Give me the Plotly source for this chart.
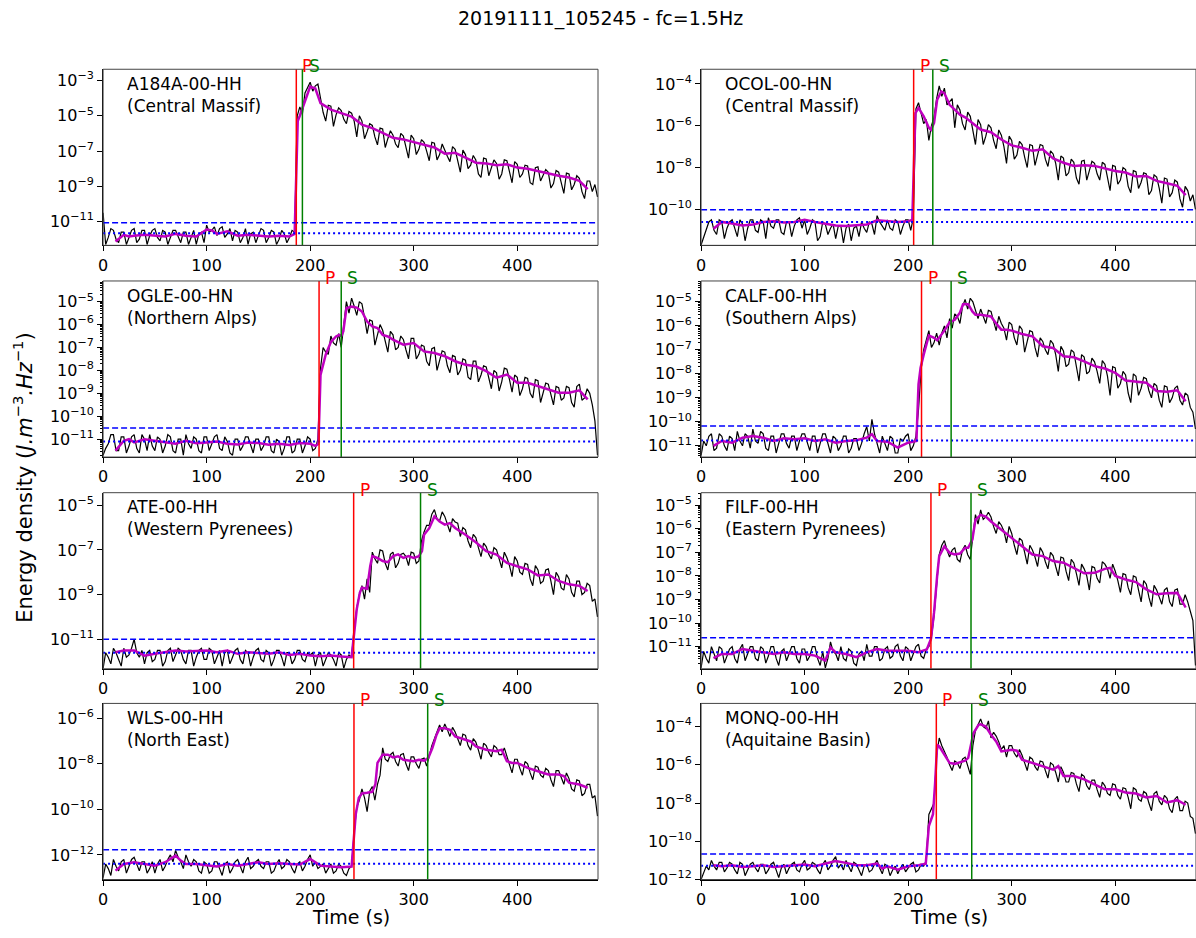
import plotly.graph_objects as go

W, H = 1196, 938

title_text = "20191111_105245 - fc=1.5Hz"
stations = ["A184A-00-HH", "OCOL-00-HN", "OGLE-00-HN", "CALF-00-HH",
            "ATE-00-HH", "FILF-00-HH", "WLS-00-HH", "MONQ-00-HH"]
regions = ["Central Massif", "Central Massif", "Northern Alps", "Southern Alps",
           "Western Pyrenees", "Eastern Pyrenees", "North East", "Aquitaine Basin"]
p_times = [186.6, 205.3, 208.6, 212.9, 242.0, 222.0, 242.3, 227.2]
s_times = [192.5, 223.8, 230.0, 241.5, 306.6, 260.7, 313.5, 261.4]
# noise levels (log10)
dashed_exp = [-11.07, -10.02, -10.51, -10.17, -11.0, -10.62, -11.77, -10.67]
dotted_exp = [-11.66, -10.6, -11.1, -10.78, -11.6, -11.24, -12.39, -11.28]
# y-axis limits (log10)
ylim_exp = [(-12.35, -2.36), (-11.72, -3.30), (-11.78, -4.10), (-11.47, -4.13),
            (-12.32, -4.44), (-11.94, -4.47), (-13.08, -5.35), (-12.0, -2.79)]
ytick_exp = [[-11, -9, -7, -5, -3], [-10, -8, -6, -4],
             [-11, -10, -9, -8, -7, -6, -5], [-11, -10, -9, -8, -7, -6, -5],
             [-11, -9, -7, -5], [-11, -10, -9, -8, -7, -6, -5],
             [-12, -10, -8, -6], [-12, -10, -8, -6, -4]]
minor_panels = [2, 3, 5]
xticks = [0, 100, 200, 300, 400]
xmax = 478

# time samples for the raw energy trace (s), every 2.5 s
t_black = [2.5 * k for k in range(192)]

# raw energy density (log10), one row = 50 s
black_1 = [
    -10.5, -12.3, -11.9, -11.4, -11.5, -12.0, -12.2, -11.6, -11.6, -12.3, -11.9, -11.5, -11.4, -12.2, -12.0, -11.5, -11.5, -12.3, -11.8, -11.5,
    -11.4, -11.9, -12.1, -11.5, -11.6, -12.3, -11.9, -11.5, -11.5, -11.9, -12.2, -11.6, -11.6, -12.3, -11.9, -11.5, -12.3, -11.7, -11.6, -12.2,
    -11.2, -11.6, -11.5, -11.3, -11.8, -11.4, -11.3, -11.9, -11.7, -11.4, -12.1, -11.5, -11.6, -12.2, -11.9, -11.4, -12.3, -11.7, -11.6, -12.2,
    -11.8, -11.4, -11.5, -12.2, -11.9, -11.5, -11.6, -12.3, -12.0, -11.5, -11.7, -12.2, -11.9, -11.5, -11.6, -5.0, -4.5, -4.9, -3.7, -3.4,
    -3.1, -3.6, -3.3, -3.2, -4.1, -4.8, -5.3, -4.4, -4.45, -5.6, -4.95, -4.55, -4.7, -5.2, -5.45, -4.75, -4.85, -5.3, -6.2, -5.0,
    -5.3, -6.3, -5.9, -5.45, -5.55, -6.2, -6.65, -5.7, -5.75, -6.8, -6.3, -5.85, -6.1, -6.6, -6.8, -6.0, -6.15, -6.7, -7.4, -6.1,
    -6.3, -7.2, -6.9, -6.35, -6.5, -7.0, -7.55, -6.5, -6.55, -7.5, -7.2, -6.6, -7.0, -7.3, -7.6, -6.75, -6.9, -7.6, -8.2, -6.95,
    -7.2, -8.0, -7.8, -7.25, -7.5, -8.3, -8.5, -7.4, -7.45, -8.4, -7.95, -7.5, -7.7, -8.6, -8.3, -7.5, -7.55, -8.1, -8.8, -7.6,
    -7.75, -8.5, -8.3, -7.8, -7.85, -8.8, -8.9, -7.95, -7.9, -8.7, -8.4, -8.05, -8.2, -9.1, -8.85, -8.1, -8.2, -8.8, -9.4, -8.25,
    -8.3, -9.2, -8.9, -8.4, -8.55, -9.3, -9.7, -8.7, -8.7, -9.3, -8.9, -9.6]
black_2 = [
    -11.7, -11.3, -11.0, -10.6, -10.5, -11.0, -11.2, -10.5, -10.6, -11.4, -10.9, -10.6, -10.5, -10.9, -11.3, -10.5, -10.7, -11.5, -10.9, -10.5,
    -10.5, -11.0, -11.1, -10.5, -10.6, -11.4, -10.4, -10.8, -10.9, -10.5, -10.5, -11.1, -11.2, -10.6, -10.6, -11.3, -10.8, -10.5, -10.4, -10.9,
    -10.5, -11.2, -10.9, -10.5, -10.6, -11.5, -11.3, -10.6, -10.7, -11.2, -10.9, -10.7, -11.4, -10.8, -10.8, -11.6, -10.9, -10.7, -11.5, -10.9,
    -10.8, -11.3, -10.6, -10.9, -11.1, -10.6, -10.7, -11.2, -10.3, -10.6, -10.8, -11.0, -10.5, -10.9, -11.0, -10.5, -10.6, -11.2, -10.8, -10.5,
    -10.5, -11.0, -10.4, -5.2, -4.9, -5.4, -5.9, -5.7, -6.7, -6.0, -5.6, -4.7, -4.1, -4.6, -4.2, -5.0, -4.85, -4.7, -6.1, -5.0,
    -5.25, -5.9, -6.2, -5.35, -5.55, -6.3, -6.9, -5.7, -5.95, -6.9, -6.5, -5.95, -6.1, -6.7, -7.1, -6.2, -6.45, -7.0, -7.8, -6.5,
    -6.7, -7.6, -7.4, -6.75, -6.9, -7.5, -8.0, -6.9, -6.95, -7.9, -7.4, -6.9, -6.95, -7.6, -7.95, -7.2, -7.35, -7.8, -8.6, -7.45,
    -7.55, -8.4, -8.25, -7.6, -7.75, -8.5, -8.8, -7.7, -7.65, -8.6, -8.15, -7.7, -7.8, -8.3, -8.6, -7.75, -7.85, -8.5, -9.1, -7.9,
    -7.95, -8.8, -8.6, -8.0, -8.1, -8.9, -9.2, -8.15, -8.2, -9.0, -8.7, -8.25, -8.3, -9.3, -9.1, -8.35, -8.45, -9.0, -9.7, -8.5,
    -8.55, -9.4, -9.2, -8.6, -8.7, -9.5, -9.9, -8.9, -9.1, -9.6, -9.3, -10.0]
black_3 = [
    -11.7, -11.4, -11.2, -10.8, -10.8, -11.5, -11.5, -10.9, -10.9, -11.6, -11.3, -10.9, -10.8, -11.4, -11.6, -10.8, -11.0, -11.5, -10.8, -11.3,
    -11.5, -10.9, -11.0, -11.6, -11.3, -10.8, -10.9, -11.5, -11.6, -11.0, -11.0, -11.7, -10.8, -11.2, -11.4, -10.9, -11.0, -11.5, -11.6, -10.9,
    -10.9, -11.5, -11.2, -10.9, -10.8, -11.4, -11.5, -10.9, -11.1, -11.6, -11.7, -11.0, -11.0, -11.5, -11.3, -10.9, -10.9, -11.3, -11.6, -11.0,
    -11.0, -11.5, -11.3, -10.9, -10.9, -11.5, -11.6, -11.0, -11.1, -11.7, -11.4, -10.9, -10.9, -11.6, -11.5, -11.0, -11.0, -11.6, -11.3, -10.9,
    -11.0, -11.5, -11.4, -11.0, -7.9, -7.0, -7.2, -7.3, -6.5, -6.8, -6.9, -6.4, -7.0, -6.0, -5.0, -5.5, -4.85, -5.2, -5.6, -5.0,
    -5.1, -5.7, -6.4, -5.8, -5.85, -6.9, -6.5, -6.0, -6.25, -6.8, -7.2, -6.3, -6.45, -7.1, -7.0, -6.5, -6.65, -7.1, -7.5, -6.6,
    -6.6, -7.5, -7.3, -6.9, -6.95, -7.6, -7.8, -7.05, -7.0, -8.0, -7.55, -7.15, -7.2, -7.8, -8.1, -7.35, -7.4, -8.2, -8.0, -7.5,
    -7.55, -8.3, -8.4, -7.6, -7.6, -8.5, -8.2, -7.8, -7.85, -8.3, -8.8, -8.0, -8.1, -8.9, -8.5, -7.9, -7.95, -8.4, -8.95, -8.2,
    -8.3, -9.1, -8.8, -8.3, -8.35, -9.0, -9.2, -8.4, -8.45, -9.4, -9.0, -8.55, -8.6, -9.1, -9.5, -8.7, -8.75, -9.3, -9.2, -8.7,
    -8.75, -9.4, -9.6, -8.7, -8.6, -9.3, -9.2, -8.8, -9.0, -9.5, -10.2, -11.7]
black_4 = [
    -11.4, -10.8, -11.0, -10.6, -10.5, -11.2, -11.1, -10.5, -10.6, -11.0, -11.2, -10.6, -10.7, -11.2, -10.4, -10.8, -11.0, -10.5, -10.6, -11.1,
    -10.3, -10.8, -10.9, -10.4, -10.5, -11.1, -11.2, -10.6, -10.6, -11.3, -10.9, -10.5, -10.5, -10.9, -11.1, -10.6, -10.6, -11.2, -10.8, -10.5,
    -10.5, -10.9, -11.2, -10.6, -10.6, -11.3, -10.9, -10.5, -10.5, -10.9, -11.3, -10.6, -10.7, -11.2, -11.0, -10.6, -10.6, -11.3, -11.1, -10.7,
    -10.7, -11.2, -10.9, -10.5, -10.2, -10.8, -9.9, -10.5, -10.9, -11.3, -10.6, -10.9, -11.2, -10.6, -10.7, -11.3, -11.3, -10.7, -10.8, -10.6,
    -10.5, -11.2, -11.0, -10.6, -9.5, -7.8, -7.0, -6.6, -6.2, -6.9, -6.7, -6.3, -6.8, -6.3, -6.0, -6.5, -5.7, -6.1, -5.5, -5.6,
    -5.9, -5.2, -4.9, -5.3, -4.85, -5.0, -5.4, -5.7, -5.3, -5.6, -5.9, -5.35, -5.4, -5.8, -6.2, -5.6, -5.9, -6.1, -6.6, -5.85,
    -5.95, -6.5, -6.8, -6.0, -6.15, -7.1, -6.7, -6.2, -6.25, -6.9, -7.3, -6.5, -6.65, -7.0, -7.2, -6.6, -6.75, -7.2, -7.9, -6.85,
    -7.05, -7.7, -7.6, -7.0, -7.1, -7.8, -8.3, -7.2, -7.3, -8.0, -7.9, -7.35, -7.5, -7.9, -8.4, -7.45, -7.6, -8.1, -8.9, -7.7,
    -7.75, -8.6, -8.4, -7.9, -8.05, -8.8, -9.2, -8.0, -8.1, -8.9, -8.6, -8.15, -8.2, -8.7, -9.0, -8.4, -8.5, -9.1, -9.4, -8.5,
    -8.55, -9.2, -9.0, -8.6, -8.5, -9.1, -9.3, -8.8, -8.9, -9.4, -9.6, -10.3]
black_5 = [
    -12.3, -11.6, -11.8, -12.1, -11.4, -11.6, -11.9, -12.2, -11.4, -11.8, -11.7, -11.4, -11.0, -11.6, -11.8, -11.5, -12.1, -11.6, -11.5, -12.0,
    -11.9, -11.5, -11.5, -12.2, -12.0, -11.5, -11.4, -12.0, -11.7, -11.4, -11.5, -11.9, -12.1, -11.5, -11.5, -12.2, -11.8, -11.5, -11.4, -11.9,
    -11.9, -11.4, -11.5, -12.1, -11.8, -11.5, -12.2, -11.6, -11.5, -12.1, -11.8, -11.5, -11.4, -11.9, -12.1, -11.5, -11.6, -12.2, -11.8, -11.5,
    -11.4, -11.9, -12.0, -11.5, -11.6, -12.2, -11.9, -11.5, -11.5, -11.8, -12.2, -11.6, -11.6, -12.1, -11.9, -11.5, -11.5, -11.9, -12.0, -11.6,
    -11.7, -11.6, -12.2, -11.7, -11.6, -12.2, -11.9, -11.6, -11.7, -11.9, -12.2, -11.6, -11.7, -12.3, -11.9, -11.7, -11.8, -10.5, -9.6, -9.0,
    -8.6, -9.2, -8.3, -8.9, -7.1, -7.4, -7.6, -7.0, -7.05, -7.6, -7.9, -7.2, -7.1, -7.8, -7.6, -7.2, -7.15, -7.3, -7.7, -7.1,
    -7.15, -7.6, -7.5, -6.6, -6.2, -5.9, -5.9, -5.4, -5.2, -5.6, -5.7, -5.3, -5.5, -5.9, -6.2, -5.6, -5.75, -5.8, -6.4, -6.0,
    -6.1, -6.6, -6.9, -6.3, -6.45, -6.9, -7.3, -6.7, -6.85, -7.2, -7.4, -6.9, -7.0, -7.4, -7.8, -7.1, -7.35, -7.7, -8.2, -7.3,
    -7.5, -8.0, -8.1, -7.6, -7.65, -8.3, -8.6, -7.7, -7.9, -8.5, -8.4, -7.9, -7.85, -8.4, -9.0, -8.0, -8.2, -8.7, -8.8, -8.1,
    -8.3, -8.9, -9.1, -8.4, -8.4, -9.0, -8.9, -8.5, -8.6, -9.3, -9.2, -10.0]
black_6 = [
    -11.9, -11.2, -11.5, -11.7, -11.0, -11.3, -11.6, -11.0, -11.1, -11.7, -11.4, -11.1, -11.0, -11.5, -11.7, -11.1, -10.9, -11.6, -11.3, -11.0,
    -11.0, -11.5, -11.6, -11.0, -11.1, -11.7, -11.4, -11.0, -11.0, -11.5, -11.8, -11.2, -11.1, -11.6, -11.3, -11.0, -11.0, -11.5, -11.7, -11.1,
    -11.1, -11.6, -11.4, -11.0, -11.0, -11.5, -11.8, -11.2, -11.9, -11.5, -10.8, -11.2, -11.3, -11.6, -11.0, -11.5, -11.6, -11.1, -11.2, -11.7,
    -11.8, -11.3, -11.2, -11.6, -10.9, -11.4, -11.4, -11.0, -11.0, -11.6, -11.5, -11.1, -11.0, -11.5, -11.4, -11.0, -10.9, -11.4, -11.6, -11.0,
    -11.1, -11.6, -11.3, -11.0, -10.9, -11.4, -11.5, -11.1, -11.0, -10.6, -9.7, -8.2, -7.1, -6.7, -6.5, -6.9, -7.2, -6.9, -6.8, -7.3,
    -7.4, -6.9, -6.7, -7.1, -7.3, -6.3, -5.4, -5.8, -5.2, -5.6, -5.5, -5.3, -5.5, -5.9, -6.2, -5.7, -5.85, -6.1, -6.6, -5.9,
    -6.2, -6.7, -7.1, -6.4, -6.5, -7.0, -7.5, -6.7, -6.9, -7.2, -7.6, -6.8, -7.0, -7.4, -7.7, -7.0, -7.15, -7.6, -8.0, -7.2,
    -7.25, -7.8, -8.2, -7.3, -7.45, -7.9, -8.4, -7.5, -7.7, -8.0, -8.6, -7.6, -7.65, -8.1, -8.3, -7.4, -7.5, -7.7, -8.1, -7.5,
    -7.8, -8.2, -8.7, -7.9, -7.95, -8.5, -8.8, -8.0, -8.05, -8.6, -9.1, -8.2, -8.35, -8.9, -9.3, -8.4, -8.6, -8.9, -9.2, -8.6,
    -8.5, -9.1, -9.3, -8.6, -8.55, -9.2, -9.2, -8.8, -9.1, -9.5, -9.9, -11.8]
black_7 = [
    -13.0, -12.4, -12.6, -12.9, -12.2, -12.5, -12.7, -12.3, -12.2, -12.8, -12.5, -12.2, -12.1, -12.4, -12.7, -12.3, -12.3, -12.8, -12.6, -12.3,
    -12.8, -12.4, -12.2, -12.7, -12.5, -12.2, -12.0, -12.3, -11.8, -12.1, -12.3, -12.6, -12.0, -12.3, -12.5, -12.2, -12.3, -12.7, -12.8, -12.3,
    -12.4, -12.8, -12.7, -12.3, -12.3, -12.6, -12.9, -12.4, -12.3, -12.8, -12.6, -12.3, -12.2, -12.5, -12.8, -12.3, -12.1, -12.6, -12.5, -12.3,
    -12.2, -12.5, -12.6, -12.3, -12.3, -12.8, -12.7, -12.4, -12.2, -12.6, -12.5, -12.2, -12.3, -12.6, -12.8, -12.4, -12.3, -12.7, -12.5, -12.2,
    -12.0, -12.5, -12.3, -12.6, -12.5, -12.4, -12.8, -12.6, -12.4, -12.8, -12.7, -12.4, -12.5, -12.8, -12.9, -12.6, -12.5, -11.0, -9.9, -9.6,
    -9.1, -9.5, -10.1, -9.2, -9.0, -9.6, -8.9, -8.5, -7.3, -7.8, -7.9, -7.6, -7.5, -7.9, -8.1, -7.6, -7.55, -8.0, -8.3, -7.7,
    -7.7, -8.0, -8.2, -7.8, -7.75, -8.1, -7.6, -7.2, -6.9, -6.6, -6.3, -6.6, -6.25, -6.5, -6.8, -6.4, -6.6, -6.9, -7.2, -6.7,
    -6.75, -7.2, -7.4, -6.9, -7.05, -7.4, -7.8, -7.1, -7.2, -7.5, -7.7, -7.2, -7.3, -7.6, -7.6, -7.3, -7.7, -8.0, -8.4, -7.8,
    -7.8, -8.2, -8.5, -7.9, -8.0, -8.4, -8.7, -8.1, -8.15, -8.5, -8.6, -8.2, -8.3, -8.7, -9.0, -8.3, -8.3, -8.6, -8.9, -8.4,
    -8.65, -9.1, -9.2, -8.7, -8.75, -9.4, -9.3, -8.9, -8.9, -9.5, -9.4, -10.3]
black_8 = [
    -12.0, -11.6, -11.3, -11.5, -11.0, -11.3, -11.5, -11.1, -11.1, -11.6, -11.4, -11.1, -11.2, -11.5, -11.7, -11.1, -11.2, -11.8, -11.5, -11.2,
    -11.1, -11.4, -11.6, -11.2, -11.2, -11.7, -11.5, -11.2, -11.1, -11.5, -11.9, -11.4, -11.2, -11.7, -11.4, -11.2, -11.1, -11.5, -11.6, -11.2,
    -11.0, -11.5, -11.4, -11.1, -11.2, -11.5, -11.7, -11.2, -11.0, -11.5, -11.3, -11.0, -10.8, -11.4, -11.2, -11.5, -11.0, -11.3, -11.6, -11.1,
    -11.2, -11.5, -11.8, -11.3, -11.2, -11.6, -11.5, -11.2, -11.0, -11.4, -11.7, -11.2, -11.3, -11.8, -11.5, -11.3, -11.7, -11.4, -11.2, -11.6,
    -11.4, -11.2, -11.1, -11.6, -11.5, -11.2, -11.3, -11.0, -8.6, -8.3, -8.0, -5.5, -4.6, -5.0, -5.3, -5.6, -6.0, -6.3, -5.8, -5.9,
    -6.2, -5.7, -5.6, -6.0, -6.5, -5.0, -4.2, -3.9, -3.6, -4.0, -4.1, -3.7, -4.6, -4.3, -4.5, -4.8, -5.2, -5.0, -5.6, -5.0,
    -5.0, -5.4, -5.6, -5.2, -5.5, -5.9, -6.3, -5.6, -5.7, -6.1, -6.3, -5.8, -5.85, -6.3, -6.7, -5.9, -6.0, -6.4, -6.9, -6.1,
    -6.4, -6.9, -6.9, -6.4, -6.45, -7.0, -7.4, -6.5, -6.6, -7.1, -7.3, -6.8, -6.8, -7.3, -7.7, -6.9, -7.1, -7.5, -7.6, -7.0,
    -7.05, -7.6, -7.8, -7.2, -7.25, -7.7, -8.3, -7.2, -7.3, -7.8, -7.9, -7.4, -7.5, -8.0, -8.4, -7.5, -7.4, -7.9, -8.1, -7.6,
    -7.75, -8.3, -8.5, -7.8, -7.65, -8.4, -8.4, -7.9, -8.0, -8.7, -8.8, -9.6]

# smoothed energy (log10)
mag_t_1 = [12, 20, 25, 30, 40, 50, 60, 70, 80, 90, 100, 105, 110, 120, 130, 140, 150, 160, 170, 180, 185,
           188, 190, 195, 200, 205, 210, 220, 230, 240, 250, 260, 270, 280, 290, 300, 310, 320, 330, 340,
           350, 360, 370, 380, 390, 400, 410, 420, 430, 440, 450, 460, 468]
mag_1 = [-12.13, -11.75, -11.85, -11.8, -11.75, -11.8, -11.85, -11.7, -11.8, -11.85, -11.45, -11.5, -11.7,
         -11.55, -11.8, -11.75, -11.8, -11.85, -11.8, -11.85, -11.7,
         -5.3, -5.0, -4.2, -3.35, -3.45, -4.28, -4.65, -4.84, -5.05, -5.5, -5.7, -5.97, -6.25, -6.34, -6.5,
         -6.68, -6.8, -7.15, -7.1, -7.38, -7.66, -7.7, -7.8, -7.75, -7.94, -8.0, -8.13, -8.3, -8.4, -8.5,
         -8.69, -9.16]
mag_t_2 = [12, 20, 30, 40, 50, 60, 70, 80, 90, 100, 110, 120, 130, 140, 150, 160, 170, 180, 190, 200, 204,
           207, 210, 215, 220, 222, 225, 228, 232, 235, 240, 245, 250, 255, 260,
           270, 280, 290, 300, 310, 320, 330, 340, 350, 360, 370, 380, 390, 400, 410, 420, 430, 440, 450, 460,
           468]
mag_2 = [-10.93, -10.6, -10.68, -10.77, -10.72, -10.6, -10.57, -10.63, -10.6, -10.5, -10.6, -10.68, -10.77,
         -10.8, -10.77, -10.72, -10.52, -10.57, -10.6, -10.57, -10.5,
         -5.4, -5.15, -5.55, -6.1, -6.2, -5.87, -4.76, -4.36, -4.45, -5.0, -5.23, -5.47, -5.6, -5.79,
         -6.18, -6.31, -6.66, -6.94, -7.05, -7.2, -7.13, -7.56, -7.77, -7.92, -7.89, -7.92, -8.05, -8.16,
         -8.24, -8.43, -8.4, -8.64, -8.75, -8.87, -9.32]
mag_t_3 = [12, 20, 25, 30, 40, 50, 60, 70, 80, 90, 100, 110, 120, 130, 140, 150, 160, 170, 180, 190, 200,
           205, 208, 210, 215, 220, 225, 228, 230, 232, 235, 240, 245, 250, 255, 260, 265, 270, 275, 280,
           290, 300, 310, 320, 330, 340, 350, 360, 370, 380, 390, 400, 410, 420, 430, 440, 450, 460, 468]
mag_3 = [-11.5, -11.07, -11.0, -11.14, -11.0, -11.07, -11.14, -11.2, -11.07, -11.18, -11.14, -11.1, -11.2,
         -11.23, -11.14, -11.17, -11.24, -11.2, -11.25, -11.17, -11.2, -11.29, -11.2,
         -8.2, -7.31, -6.76, -6.52, -6.45, -6.5, -6.3, -5.29, -5.22, -5.26, -5.43, -5.87, -6.08, -6.15,
         -6.45, -6.52, -6.66,
         -6.88, -6.81, -7.17, -7.24, -7.38, -7.6, -7.75, -7.82, -8.03, -8.32, -8.18, -8.54, -8.54, -8.68,
         -8.83, -8.97, -8.97, -8.87, -9.26]
mag_t_4 = [12, 20, 30, 40, 50, 60, 70, 80, 90, 100, 110, 120, 130, 140, 150, 160, 165, 170, 180, 190, 200, 208,
           210, 212, 215, 220, 225, 228, 235, 240, 245, 250, 253, 258, 262, 265, 270, 280, 285, 290, 295, 300,
           310, 320, 330, 340, 350, 360, 370, 380, 390, 400, 410, 420, 430, 440, 450, 460, 468]
mag_4 = [-11.0, -10.8, -10.87, -10.66, -10.59, -10.66, -10.8, -10.69, -10.73, -10.69, -10.8, -10.73, -10.87,
         -10.8, -10.77, -10.66, -10.52, -10.8, -10.83, -11.07, -10.87, -10.8,
         -8.44, -7.75, -7.2, -6.4, -6.5, -6.6, -6.2, -5.85, -5.75, -5.45, -5.1, -5.1, -5.4, -5.54, -5.54,
         -5.61, -5.9, -6.16, -6.16, -6.2,
         -6.34, -6.44, -6.85, -6.92, -7.27, -7.31, -7.48, -7.68, -7.78, -7.96, -8.28, -8.31, -8.37, -8.72,
         -8.75, -8.69, -9.14]
mag_t_5 = [12, 20, 30, 40, 50, 60, 70, 80, 90, 100, 110, 120, 130, 140, 150, 160, 170, 180, 190, 200, 210,
           220, 230, 240,
           245, 248, 250, 255, 258, 260, 265, 270, 275, 280, 285, 290, 295, 300, 305, 308,
           310, 315, 320, 325, 330, 335, 340,
           350, 360, 370, 380, 390, 400, 410, 420, 430, 440, 450, 460, 468]
mag_5 = [-11.58, -11.5, -11.5, -11.73, -11.65, -11.58, -11.5, -11.55, -11.53, -11.5, -11.58, -11.5, -11.65,
         -11.58, -11.61, -11.65, -11.58, -11.7, -11.65, -11.73, -11.76, -11.73, -11.77, -11.8,
         -9.65, -8.91, -8.69, -8.74, -7.73, -7.28, -7.36, -7.5, -7.55, -7.28, -7.2, -7.36, -7.28, -7.36,
         -7.28, -7.05,
         -6.32, -6.03, -5.5, -5.73, -5.87, -5.8, -6.02,
         -6.32, -6.66, -7.06, -7.21, -7.58, -7.73, -7.87, -8.14, -8.1, -8.39, -8.54, -8.61, -8.84]
mag_t_6 = [12, 20, 30, 40, 50, 60, 70, 80, 90, 100, 110, 120, 125, 130, 140, 150, 160, 170, 180, 190, 200,
           210, 218,
           222, 225, 228, 230, 235, 240, 245, 250, 255, 258,
           262, 265, 270, 275, 280,
           290, 300, 310, 320, 330, 340, 350, 360, 370, 380, 390, 395, 400, 410, 420, 430, 440, 450, 460, 468]
mag_6 = [-11.49, -11.31, -11.31, -11.1, -11.17, -11.24, -11.31, -11.24, -11.31, -11.31, -11.38, -11.59,
         -11.03, -11.24, -11.31, -11.45, -11.24, -11.1, -11.17, -11.17, -11.17, -11.24, -11.12,
         -10.67, -9.55, -8.0, -7.16, -6.74, -7.02, -7.09, -7.05, -6.81, -6.81,
         -6.46, -5.62, -5.41, -5.48, -5.69,
         -6.04, -6.39, -6.74, -7.09, -7.16, -7.37, -7.44, -7.65, -7.89, -7.87, -7.7, -7.66, -8.0, -8.15,
         -8.26, -8.57, -8.78, -8.74, -8.72, -9.34]
mag_t_7 = [12, 20, 30, 40, 50, 60, 65, 70, 75, 80, 90, 100, 110, 120, 130, 140, 150, 160, 170, 180, 190,
           200, 210, 220, 230, 240,
           244, 247, 250, 255, 260, 263, 265, 270, 275, 280, 285, 290, 300, 305, 310, 314,
           318, 322, 325, 330, 335, 340, 345, 350, 355, 360, 370, 380, 385, 390, 395, 400, 410, 420, 430,
           440, 445, 450, 460, 468]
mag_7 = [-12.69, -12.4, -12.32, -12.4, -12.47, -12.32, -12.18, -12.03, -12.25, -12.4, -12.4, -12.47, -12.51,
         -12.4, -12.47, -12.4, -12.32, -12.4, -12.37, -12.4, -12.42, -12.18, -12.47, -12.51, -12.54,
         -12.51,
         -10.22, -9.49, -9.3, -9.27, -9.23, -8.9, -7.96, -7.6, -7.6, -7.72, -7.67, -7.82, -7.89, -7.82,
         -7.86, -7.75,
         -7.31, -6.73, -6.44, -6.44, -6.51, -6.8, -6.87, -6.94, -7.02, -7.24, -7.38, -7.45, -7.38, -7.89,
         -7.96, -7.96, -8.18, -8.33, -8.47, -8.47, -8.54, -8.83, -8.91, -9.05]
mag_t_8 = [12, 20, 30, 40, 50, 60, 70, 80, 90, 100, 110, 120, 130, 140, 150, 160, 170, 175, 180, 190, 200,
           210, 217,
           220, 224, 226, 228, 230, 235, 240, 245, 250, 255, 258,
           263, 268, 270, 275, 280, 285, 290, 300, 305, 310, 320, 330, 340, 345, 350, 360, 370, 380, 390,
           400, 410, 420, 430, 440, 450, 460, 468]
mag_8 = [-11.25, -11.31, -11.25, -11.34, -11.31, -11.25, -11.34, -11.31, -11.25, -11.22, -11.31, -11.17,
         -11.03, -11.13, -11.25, -11.25, -11.17, -11.43, -11.31, -11.48, -11.31, -11.25, -11.17,
         -9.2, -8.58, -7.0, -4.95, -5.04, -5.47, -5.9, -5.95, -5.85, -5.78, -5.64,
         -4.35, -3.91, -3.88, -4.0, -4.43, -4.78, -5.3, -5.21, -5.26, -5.73, -5.9, -6.07, -6.25, -6.07,
         -6.59, -6.59, -6.76, -7.02, -7.28, -7.28, -7.45, -7.5, -7.71, -7.63, -7.97, -7.85, -8.09]

blacks = [black_1, black_2, black_3, black_4, black_5, black_6, black_7, black_8]
mag_ts = [mag_t_1, mag_t_2, mag_t_3, mag_t_4, mag_t_5, mag_t_6, mag_t_7, mag_t_8]
mags = [mag_1, mag_2, mag_3, mag_4, mag_5, mag_6, mag_7, mag_8]

for b, mt, m in zip(blacks, mag_ts, mags):
    assert len(b) == len(t_black), (len(b), len(t_black))
    assert len(mt) == len(m), (len(mt), len(m))

FONT = "DejaVu Sans"
row_tops = [70, 284, 498, 711]
ax_h = 178
col_x = [(98.5, 595.5), (699, 1196)]

fig = go.Figure()
shapes = []
annotations = []


def sup(e):
    return "10<sup>\u2212%d</sup>" % (-e)


for i in range(8):
    n = i + 1
    r, c = divmod(i, 2)
    xa = "x" if n == 1 else "x%d" % n
    ya = "y" if n == 1 else "y%d" % n
    xd = [col_x[c][0] / W, min(col_x[c][1] / W, 1.0)]
    top = row_tops[r]
    yd = [1 - (top + ax_h) / H, 1 - top / H]

    fig.add_trace(go.Scatter(x=t_black, y=[10 ** v for v in blacks[i]], mode="lines",
                             line=dict(color="black", width=1.2), xaxis=xa, yaxis=ya,
                             showlegend=False, hoverinfo="skip"))
    fig.add_trace(go.Scatter(x=mag_ts[i], y=[10 ** v for v in mags[i]], mode="lines",
                             line=dict(color="#BF00BF", width=2.5), xaxis=xa, yaxis=ya,
                             showlegend=False, hoverinfo="skip"))
    fig.add_trace(go.Scatter(x=[0, xmax], y=[10 ** dashed_exp[i]] * 2, mode="lines",
                             line=dict(color="#0000FF", width=1.5, dash="6px,3px"),
                             xaxis=xa, yaxis=ya, showlegend=False, hoverinfo="skip"))
    fig.add_trace(go.Scatter(x=[0, xmax], y=[10 ** dotted_exp[i]] * 2, mode="lines",
                             line=dict(color="#0000FF", width=2, dash="2px,3px"),
                             xaxis=xa, yaxis=ya, showlegend=False, hoverinfo="skip"))

    xdom = xa + " domain"
    ydom = ya + " domain"
    shapes.append(dict(type="line", xref=xa, yref=ydom, x0=p_times[i], x1=p_times[i], y0=0, y1=1,
                       line=dict(color="#FF0000", width=1.5)))
    shapes.append(dict(type="line", xref=xa, yref=ydom, x0=s_times[i], x1=s_times[i], y0=0, y1=1,
                       line=dict(color="#008000", width=1.5)))
    shapes.append(dict(type="rect", xref=xdom, yref=ydom, x0=0, x1=1, y0=0, y1=1,
                       line=dict(color="#444444", width=1)))

    annotations.append(dict(xref=xa, yref=ydom, x=p_times[i] + 4, y=1, text="P", showarrow=False,
                            xanchor="left", yanchor="bottom", yshift=-9,
                            font=dict(family=FONT, size=17, color="#FF0000")))
    annotations.append(dict(xref=xa, yref=ydom, x=s_times[i] + 4, y=1, text="S", showarrow=False,
                            xanchor="left", yanchor="bottom", yshift=-9,
                            font=dict(family=FONT, size=17, color="#008000")))
    annotations.append(dict(xref=xdom, yref=ydom, x=0.045, y=0.985,
                            text="%s<br>(%s)" % (stations[i], regions[i]), showarrow=False,
                            xanchor="left", yanchor="top", align="left",
                            font=dict(family=FONT, size=17, color="black")))

    lo, hi = ylim_exp[i]
    yaxis = dict(type="log", domain=yd, range=[lo, hi], anchor=xa,
                 tickmode="array", tickvals=[10.0 ** e for e in ytick_exp[i]],
                 ticktext=[sup(e) for e in ytick_exp[i]],
                 ticks="outside", ticklen=5, tickcolor="black", tickwidth=1,
                 showline=True, linecolor="black", linewidth=1, showgrid=False, zeroline=False,
                 tickfont=dict(family=FONT, size=16, color="black"))
    if i in minor_panels:
        mv = []
        for e in range(-13, -3):
            for k in range(2, 10):
                mv.append(k * 10.0 ** e)
        yaxis["minor"] = dict(tickmode="array", tickvals=mv, ticks="outside", ticklen=2.5,
                              tickcolor="black", tickwidth=0.8, showgrid=False)
    xaxis = dict(domain=xd, range=[0, xmax], anchor=ya, tickmode="array", tickvals=xticks,
                 ticks="outside", ticklen=5, tickcolor="black", tickwidth=1,
                 showline=True, linecolor="black", linewidth=1, showgrid=False, zeroline=False,
                 tickfont=dict(family=FONT, size=16, color="black"))
    key = "" if n == 1 else str(n)
    fig.layout["xaxis" + key] = xaxis
    fig.layout["yaxis" + key] = yaxis

# bottom x labels
for c in range(2):
    xc = (col_x[c][0] + min(col_x[c][1], W)) / 2 / W
    annotations.append(dict(xref="paper", yref="paper", x=xc, y=1 - 927 / H, text="Time (s)",
                            showarrow=False, xanchor="center", yanchor="middle", borderpad=0,
                            font=dict(family=FONT, size=19, color="black")))

annotations.append(dict(xref="paper", yref="paper", x=18 / W, y=1 - 483 / H,
                        text="Energy density (<i>J.m</i><sup>\u22123</sup><i>.Hz</i><sup>\u22121</sup>)",
                        textangle=-90, showarrow=False, xanchor="center", yanchor="middle",
                        font=dict(family=FONT, size=21, color="black")))
annotations.append(dict(xref="paper", yref="paper", x=0.5, y=1 - 19 / H, text=title_text,
                        showarrow=False, xanchor="center", yanchor="middle",
                        font=dict(family=FONT, size=19, color="black")))

fig.update_layout(width=W, height=H, autosize=False,
                  margin=dict(l=0, r=0, t=0, b=0, pad=0),
                  paper_bgcolor="white", plot_bgcolor="white",
                  shapes=shapes, annotations=annotations, showlegend=False,
                  font=dict(family=FONT, color="black"))

fig.write_html("out.html", config={"displayModeBar": False},
               post_script="document.body.style.margin='0';document.body.style.overflow='hidden';")
